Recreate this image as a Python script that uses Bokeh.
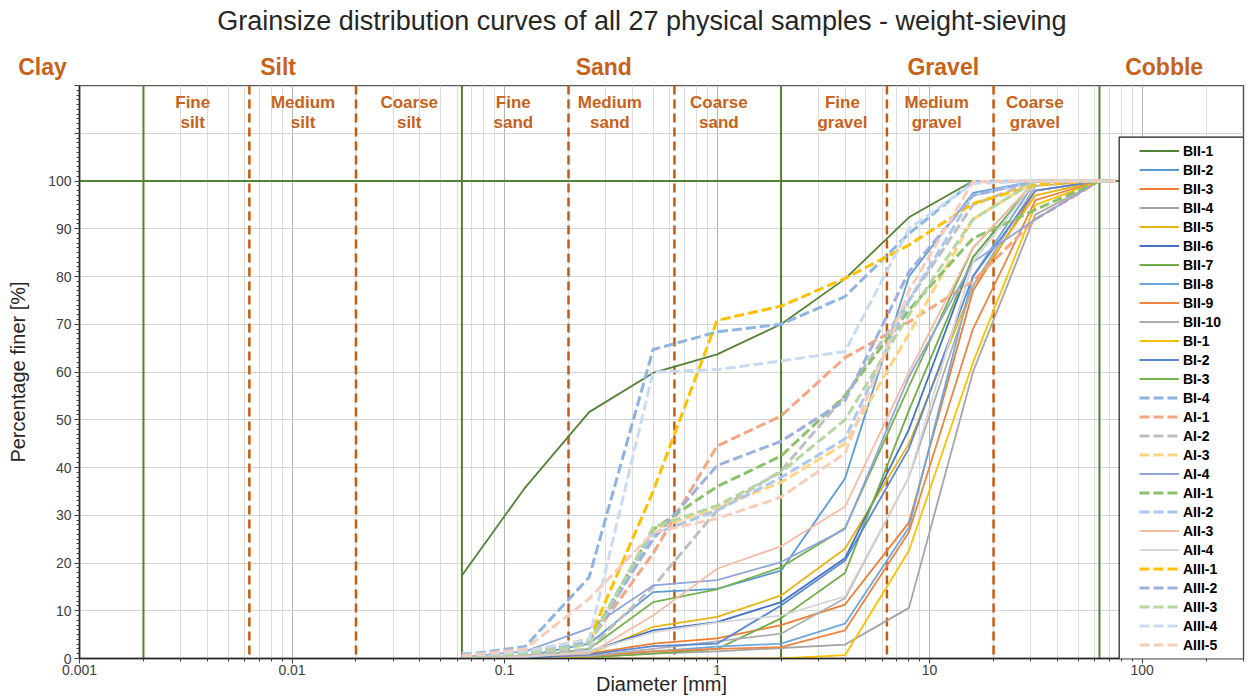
import math
from bokeh.plotting import figure
from bokeh.layouts import column
from bokeh.models import (Span, Label, Legend, LegendItem, FixedTicker,
                          CustomJSTickFormatter, Range1d, BoxAnnotation)
from bokeh.core.properties import value
from bokeh.embed import file_html
from bokeh.resources import INLINE

FONT = "Liberation Sans"
ORANGE = "#C8621A"
DKGREEN = "#548235"

# ---------------- data ----------------
sieve_mm = [0.063, 0.125, 0.25, 0.5, 1, 2, 4, 8, 16, 31.5, 63, 75]

BII_1 = [17.4, 35.8, 51.6, 59.8, 63.7, 70.0, 79.5, 92.4, 100, 100, 100, 100]
BII_2 = [0.2, 0.5, 3.1, 13.9, 14.6, 18.4, 37.7, 80.0, 97.5, 100, 100, 100]
BII_3 = [0.0, 0.2, 1.0, 3.1, 4.2, 7.0, 11.3, 28.5, 77.0, 98.0, 100, 100]
BII_4 = [0.0, 0.1, 0.3, 1.0, 1.5, 2.2, 2.9, 10.6, 60.0, 93.0, 100, 100]
BII_5 = [0.0, 0.3, 1.0, 6.6, 8.7, 13.2, 23.0, 45.0, 78.0, 97.0, 100, 100]
BII_6 = [0.0, 0.3, 1.5, 5.9, 7.6, 11.8, 21.0, 48.0, 84.0, 100, 100, 100]
BII_7 = [0.0, 0.1, 0.3, 1.0, 2.0, 8.4, 17.9, 52.0, 84.0, 100, 100, 100]
BII_8 = [0.0, 0.1, 0.5, 1.5, 2.5, 3.1, 7.3, 27.5, 80.0, 100, 100, 100]
BII_9 = [0.0, 0.1, 0.5, 1.5, 2.0, 2.4, 5.9, 26.5, 69.0, 96.0, 100, 100]
BII_10 = [0.0, 0.1, 0.5, 2.0, 3.6, 5.2, 12.6, 38.0, 78.0, 99.0, 100, 100]
BI_1 = [0.0, 0.0, 0.0, 0.0, 0.0, 0.0, 0.7, 22.6, 62.0, 95.0, 100, 100]
BI_2 = [0.0, 0.2, 0.8, 2.6, 3.1, 11.1, 20.5, 44.0, 80.0, 98.0, 100, 100]
BI_3 = [0.1, 0.3, 2.0, 11.8, 14.5, 19.1, 27.3, 57.0, 86.0, 100, 100, 100]
BI_4 = [0.7, 2.5, 17.0, 64.7, 68.4, 70.0, 75.8, 89.0, 99.9, 100, 100, 100]
AI_1 = [0.5, 1.0, 3.5, 22.0, 44.5, 50.8, 63.0, 70.5, 79.0, 92.0, 100, 100]
AI_2 = [0.3, 0.8, 2.0, 15.0, 31.0, 39.3, 55.0, 75.0, 95.0, 100, 100, 100]
AI_3 = [0.3, 1.0, 3.0, 27.0, 31.6, 36.9, 45.0, 68.0, 92.0, 100, 100, 100]
AI_4 = [0.3, 1.5, 6.3, 15.3, 16.4, 20.2, 27.1, 59.0, 83.0, 92.0, 100, 100]
AII_1 = [0.3, 1.5, 3.5, 27.0, 36.0, 42.4, 55.0, 73.0, 88.0, 94.0, 100, 100]
AII_2 = [1.0, 1.5, 3.0, 26.0, 31.0, 37.9, 46.0, 75.0, 97.0, 100, 100, 100]
AII_3 = [0.2, 0.5, 1.0, 9.0, 18.8, 23.5, 31.8, 60.0, 86.0, 100, 100, 100]
AII_4 = [0.0, 0.3, 1.5, 5.5, 7.5, 9.0, 13.0, 38.0, 83.0, 100, 100, 100]
AIII_1 = [0.5, 1.5, 4.0, 35.0, 70.8, 73.8, 79.6, 86.6, 95.3, 99.2, 100, 100]
AIII_2 = [0.3, 1.0, 3.5, 25.0, 40.4, 45.5, 54.0, 81.0, 97.0, 100, 100, 100]
AIII_3 = [0.3, 1.0, 3.0, 27.5, 32.0, 39.0, 50.0, 72.0, 92.0, 100, 100, 100]
AIII_4 = [0.5, 1.5, 4.0, 60.0, 60.5, 62.3, 64.3, 90.0, 99.5, 100, 100, 100]
AIII_5 = [0.5, 2.0, 12.5, 26.4, 29.3, 33.8, 43.0, 77.0, 99.9, 100, 100, 100]

series_names = ["BII-1", "BII-2", "BII-3", "BII-4", "BII-5", "BII-6", "BII-7",
                "BII-8", "BII-9", "BII-10", "BI-1", "BI-2", "BI-3", "BI-4",
                "AI-1", "AI-2", "AI-3", "AI-4", "AII-1", "AII-2", "AII-3",
                "AII-4", "AIII-1", "AIII-2", "AIII-3", "AIII-4", "AIII-5"]
series_values = [BII_1, BII_2, BII_3, BII_4, BII_5, BII_6, BII_7, BII_8, BII_9,
                 BII_10, BI_1, BI_2, BI_3, BI_4, AI_1, AI_2, AI_3, AI_4, AII_1,
                 AII_2, AII_3, AII_4, AIII_1, AIII_2, AIII_3, AIII_4, AIII_5]
series_colors = ["#548235", "#5B9BD5", "#ED7D31", "#A5A5A5", "#E7B416", "#4472C4",
                 "#70AD47", "#6FA8DC", "#EE8442", "#ADADAD", "#FFC000", "#5A86D6",
                 "#77B24D", "#8DB4E2", "#F4A582", "#BFBFBF", "#FFD480", "#8FA5DC",
                 "#8DC06A", "#AAC8EC", "#F7BCA6", "#D6D6D6", "#FFC000", "#9DB0E0",
                 "#B5D6A0", "#C9DBF1", "#F8CCBA"]
series_dashed = [False] * 13 + [True, True, True, True, False, True, True, False,
                                False, True, True, True, True, True]

class_bounds_solid = [0.002, 0.063, 2, 63]
class_bounds_dashed = [0.0063, 0.02, 0.2, 0.63, 6.3, 20]
main_classes = ["Clay", "Silt", "Sand", "Gravel", "Cobble"]
main_class_x = [0.00067, 0.0086, 0.293, 11.6, 127]
sub_class_top = ["Fine", "Medium", "Coarse"] * 3
sub_class_bottom = ["silt"] * 3 + ["sand"] * 3 + ["gravel"] * 3
sub_class_x = [0.00341, 0.01127, 0.0356, 0.110, 0.313, 1.02, 3.89, 10.8, 31.3]

x_ticks = [0.001, 0.01, 0.1, 1, 10, 100]
x_minor = [k * 10.0 ** e for e in range(-3, 3) for k in range(2, 10) if k * 10.0 ** e <= 300]
y_ticks = list(range(0, 121, 10))
y_minor = list(range(0, 121))

title_text = "Grainsize distribution curves of all 27 physical samples - weight-sieving"

# ---------------- geometry ----------------
W = 1246
TOP_H = 85
MAIN_H = 697 - TOP_H
LEFT = 79
RIGHT = 3
X0, X1 = 0.001, 300
ppd = (W - LEFT - RIGHT) / (math.log10(X1) - math.log10(X0))
top_x0 = 10 ** (math.log10(X0) - LEFT / ppd)
top_x1 = 10 ** (math.log10(X1) + RIGHT / ppd)

# ---------------- header strip (title + main classes) ----------------
h = figure(width=W, height=TOP_H, x_axis_type="log",
           x_range=Range1d(top_x0, top_x1), y_range=Range1d(0, TOP_H),
           output_backend="svg", toolbar_location=None,
           x_axis_location=None, y_axis_location=None, min_border=0)
h.frame_align = False
h.grid.visible = False
h.outline_line_color = None
h.text(x=[0.443], y=[TOP_H - 20], text=[title_text], text_align="center",
       text_baseline="middle", text_font=value(FONT), text_font_size="27px",
       text_color="#262626")
h.text(x=main_class_x, y=[TOP_H - 66] * len(main_class_x), text=main_classes,
       text_align="center", text_baseline="middle", text_font=value(FONT),
       text_font_size="23px", text_font_style="bold", text_color=ORANGE)

# ---------------- main chart ----------------
p = figure(width=W, height=MAIN_H, x_axis_type="log",
           x_range=Range1d(X0, X1), y_range=Range1d(0, 120),
           output_backend="svg", toolbar_location=None,
           min_border_left=LEFT, min_border_right=RIGHT, min_border_top=0,
           min_border_bottom=37)
p.frame_align = False
p.outline_line_color = "#595959"
p.outline_line_width = 1.5

p.xaxis.ticker = FixedTicker(ticks=x_ticks, minor_ticks=x_minor)
p.xaxis.formatter = CustomJSTickFormatter(
    code="if (tick >= 1) { return tick.toFixed(0); } return String(Number(tick.toPrecision(1)));")
p.yaxis.ticker = FixedTicker(ticks=y_ticks, minor_ticks=y_minor)
p.yaxis.formatter = CustomJSTickFormatter(code="return tick > 100.5 ? '' : tick.toFixed(0);")
for ax in (p.xaxis[0], p.yaxis[0]):
    ax.major_label_text_font = FONT
    ax.major_label_text_font_size = "14px"
    ax.major_label_text_color = "#404040"
    ax.axis_line_color = "#262626"
    ax.axis_line_width = 1.5
    ax.major_tick_line_color = "#404040"
    ax.minor_tick_line_color = "#404040"
    ax.major_tick_in = 0
    ax.minor_tick_in = 0
    ax.major_tick_out = 5
    ax.minor_tick_out = 3
    ax.major_label_standoff = 3
    ax.axis_label_text_font = FONT
    ax.axis_label_text_font_size = "20px"
    ax.axis_label_text_font_style = "normal"
    ax.axis_label_text_color = "#262626"
p.xaxis.axis_label = "Diameter [mm]"
p.xaxis.major_label_standoff = 1
p.xaxis.axis_label_standoff = -5
p.yaxis.axis_label = "Percentage finer [%]"
p.yaxis.axis_label_standoff = 16

p.xgrid.grid_line_color = "#B5B5B5"
p.xgrid.grid_line_width = 1
p.xgrid.minor_grid_line_color = "#DCDCDC"
p.xgrid.minor_grid_line_width = 1
p.ygrid.grid_line_color = "#D5D5D5"
p.ygrid.grid_line_width = 1.2

# class boundaries
p.add_layout(Span(location=100, dimension="width", line_color=DKGREEN,
                  line_width=2, level="underlay"))
for b in class_bounds_solid:
    p.add_layout(Span(location=b, dimension="height", line_color=DKGREEN,
                      line_width=2, level="underlay"))
for b in class_bounds_dashed:
    p.add_layout(Span(location=b, dimension="height", line_color="#C55A11",
                      line_width=2.5, line_dash="9 5", level="underlay"))

# curves
items = []
for name, vals, col, dashed in zip(series_names, series_values, series_colors, series_dashed):
    r = p.line(sieve_mm, vals, line_color=col,
               line_width=3 if dashed else 1.8,
               line_dash="10 4" if dashed else "solid",
               line_join="round")
    items.append(LegendItem(label=name, renderers=[r]))

# legend frame box
p.add_layout(BoxAnnotation(left=78, right=300, top=109.2, bottom=-1,
                           fill_color="white", fill_alpha=1.0,
                           line_color="#1a1a1a", line_width=1.2, line_alpha=1.0))

legend = Legend(items=items, location=(1055, -1), padding=5, spacing=0,
                margin=0, glyph_width=40, glyph_height=19, label_height=19,
                label_standoff=4, border_line_alpha=0, background_fill_alpha=0,
                label_text_font=FONT, label_text_font_size="14px",
                label_text_font_style="bold", label_text_color="#000000")
p.add_layout(legend)

# sub-class labels inside the plot area
for t, b, xv in zip(sub_class_top, sub_class_bottom, sub_class_x):
    p.add_layout(Label(x=xv, y=116.5, text=t, text_align="center",
                       text_baseline="middle", text_font=FONT,
                       text_font_size="17px", text_font_style="bold",
                       text_color=ORANGE))
    p.add_layout(Label(x=xv, y=112.2, text=b, text_align="center",
                       text_baseline="middle", text_font=FONT,
                       text_font_size="17px", text_font_style="bold",
                       text_color=ORANGE))

layout = column(h, p, spacing=0)
open("out.html", "w").write(file_html(layout, INLINE))
